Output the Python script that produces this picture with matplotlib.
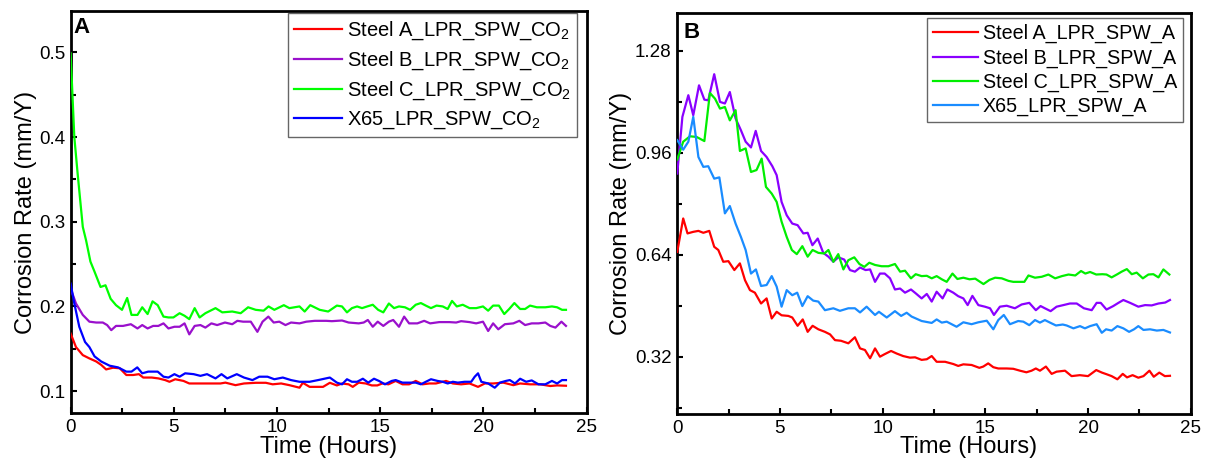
import matplotlib
matplotlib.use("Agg")
import matplotlib.pyplot as plt
import numpy as np
from matplotlib import rcParams
from matplotlib.ticker import MultipleLocator, FormatStrFormatter

rcParams["font.family"] = ["Liberation Sans", "DejaVu Sans"]
rcParams["mathtext.default"] = "regular"

# (time in hours, corrosion rate in mm/Y)
a_steel_a = [(0, 0.168), (0.26, 0.152), (0.59, 0.1425), (0.91, 0.1386), (1.24, 0.135), (1.48, 0.131), (1.72, 0.1256),
             (2.05, 0.1276), (2.38, 0.127), (2.7, 0.119), (3.03, 0.119), (3.31, 0.12), (3.52, 0.116), (3.93, 0.116),
             (4.25, 0.115), (4.58, 0.113), (4.79, 0.111), (5.07, 0.114), (5.47, 0.112), (5.75, 0.109), (6.2, 0.109),
             (6.85, 0.109), (7.26, 0.109), (7.5, 0.110), (7.99, 0.107), (8.4, 0.109), (8.97, 0.1098), (9.46, 0.1098),
             (9.79, 0.108), (10.2, 0.109), (10.6, 0.107), (11.09, 0.104), (11.25, 0.1098), (11.58, 0.105), (12.23, 0.105),
             (12.56, 0.1098), (12.9, 0.1067), (13.15, 0.109), (13.47, 0.108), (13.67, 0.105), (13.96, 0.11), (14.3, 0.109),
             (14.59, 0.1067), (14.86, 0.1067), (15.1, 0.109), (15.4, 0.108), (15.75, 0.112), (16.08, 0.108), (16.4, 0.108),
             (16.72, 0.112), (17.05, 0.108), (17.38, 0.109), (17.7, 0.109), (18.19, 0.112), (18.52, 0.109), (18.92, 0.108),
             (19.33, 0.109), (19.74, 0.105), (20.07, 0.109), (20.47, 0.109), (20.96, 0.11), (21.45, 0.107), (21.78, 0.109),
             (22.26, 0.108), (22.75, 0.108), (23.24, 0.106), (23.57, 0.1067), (24.0, 0.1063)]
a_steel_b = [(0, 0.221), (0.26, 0.2035), (0.59, 0.19), (0.91, 0.182), (1.24, 0.181), (1.56, 0.181), (1.77, 0.178),
             (1.97, 0.172), (2.2, 0.177), (2.54, 0.177), (2.92, 0.179), (3.24, 0.174), (3.47, 0.178), (3.73, 0.174),
             (4.0, 0.177), (4.25, 0.177), (4.5, 0.18), (4.74, 0.174), (5.03, 0.176), (5.28, 0.176), (5.52, 0.18),
             (5.75, 0.167), (6.01, 0.177), (6.29, 0.178), (6.53, 0.175), (6.82, 0.18), (7.1, 0.178), (7.48, 0.181),
             (7.83, 0.179), (8.08, 0.183), (8.36, 0.182), (8.73, 0.182), (9.05, 0.17), (9.3, 0.182), (9.58, 0.188),
             (9.84, 0.181), (10.11, 0.182), (10.41, 0.178), (10.68, 0.181), (11.09, 0.18), (11.42, 0.182), (11.83, 0.183),
             (12.39, 0.183), (12.66, 0.1826), (13.15, 0.1834), (13.47, 0.181), (13.96, 0.18), (14.2, 0.181), (14.4, 0.184),
             (14.64, 0.176), (14.88, 0.182), (15.15, 0.177), (15.42, 0.182), (15.63, 0.184), (15.91, 0.176), (16.16, 0.188),
             (16.4, 0.18), (16.8, 0.18), (17.13, 0.183), (17.42, 0.18), (17.86, 0.1815), (18.35, 0.1815), (18.68, 0.181),
             (18.92, 0.1826), (19.33, 0.1815), (19.65, 0.18), (19.98, 0.182), (20.23, 0.171), (20.47, 0.18), (20.72, 0.173),
             (21.04, 0.179), (21.45, 0.18), (21.74, 0.183), (22.02, 0.178), (22.34, 0.18), (22.67, 0.18), (23.0, 0.181),
             (23.24, 0.177), (23.49, 0.175), (23.78, 0.182), (24.0, 0.177)]
a_steel_c = [(0, 0.499), (0.18, 0.40), (0.34, 0.357), (0.59, 0.294), (0.75, 0.278), (0.96, 0.253), (1.16, 0.241),
             (1.45, 0.223), (1.69, 0.225), (1.94, 0.209), (2.2, 0.2015), (2.49, 0.196), (2.74, 0.21), (2.95, 0.19),
             (3.24, 0.19), (3.47, 0.199), (3.73, 0.191), (3.97, 0.206), (4.22, 0.2015), (4.5, 0.188), (4.74, 0.187),
             (4.98, 0.187), (5.28, 0.192), (5.52, 0.189), (5.75, 0.185), (6.01, 0.198), (6.25, 0.187), (6.53, 0.192),
             (7.02, 0.198), (7.35, 0.193), (7.83, 0.194), (8.24, 0.192), (8.6, 0.199), (8.97, 0.196), (9.35, 0.195),
             (9.59, 0.2), (9.87, 0.196), (10.33, 0.2015), (10.6, 0.198), (11.09, 0.2), (11.34, 0.194), (11.61, 0.2015),
             (12.07, 0.196), (12.48, 0.194), (12.9, 0.201), (13.15, 0.2), (13.39, 0.193), (13.63, 0.198), (13.88, 0.2),
             (14.12, 0.198), (14.37, 0.2), (14.64, 0.202), (14.9, 0.196), (15.15, 0.193), (15.42, 0.2035), (15.67, 0.198),
             (15.91, 0.2), (16.2, 0.199), (16.45, 0.196), (16.72, 0.202), (16.97, 0.204), (17.21, 0.201), (17.46, 0.198),
             (17.73, 0.201), (18.03, 0.2), (18.27, 0.197), (18.48, 0.2065), (18.71, 0.2), (19.0, 0.202), (19.33, 0.198),
             (19.65, 0.198), (19.98, 0.2), (20.23, 0.195), (20.47, 0.201), (20.75, 0.201), (21.01, 0.191), (21.25, 0.197),
             (21.5, 0.204), (21.78, 0.197), (22.02, 0.197), (22.26, 0.201), (22.59, 0.199), (23.0, 0.199), (23.32, 0.2),
             (23.57, 0.199), (23.81, 0.196), (24.0, 0.196)]
a_x65 = [(0, 0.227), (0.18, 0.2035), (0.42, 0.176), (0.7, 0.158), (0.91, 0.152), (1.16, 0.141), (1.48, 0.135),
         (1.89, 0.13), (2.3, 0.128), (2.7, 0.123), (2.95, 0.123), (3.23, 0.128), (3.47, 0.121), (3.76, 0.123),
         (4.22, 0.123), (4.5, 0.117), (4.74, 0.116), (5.03, 0.12), (5.28, 0.117), (5.55, 0.121), (5.96, 0.12),
         (6.29, 0.118), (6.61, 0.12), (7.02, 0.115), (7.31, 0.12), (7.59, 0.115), (8.05, 0.12), (8.4, 0.116),
         (8.81, 0.113), (9.14, 0.117), (9.54, 0.117), (9.87, 0.114), (10.28, 0.116), (10.68, 0.113), (11.09, 0.111),
         (11.58, 0.111), (11.99, 0.113), (12.56, 0.116), (12.9, 0.11), (13.15, 0.108), (13.39, 0.114), (13.63, 0.111),
         (13.88, 0.111), (14.16, 0.1146), (14.42, 0.11), (14.7, 0.1146), (14.94, 0.112), (15.23, 0.108), (15.56, 0.112),
         (15.75, 0.113), (16.08, 0.11), (16.4, 0.11), (16.72, 0.11), (16.97, 0.108), (17.21, 0.111), (17.46, 0.114),
         (17.78, 0.112), (18.03, 0.111), (18.27, 0.109), (18.52, 0.111), (18.76, 0.11), (19.09, 0.111), (19.41, 0.111),
         (19.58, 0.117), (19.74, 0.121), (19.9, 0.111), (20.23, 0.109), (20.55, 0.104), (20.8, 0.11), (21.09, 0.112),
         (21.28, 0.113), (21.53, 0.109), (21.78, 0.1146), (22.07, 0.111), (22.34, 0.1126), (22.67, 0.108), (23.0, 0.108),
         (23.32, 0.112), (23.57, 0.109), (23.81, 0.113), (24.0, 0.113)]

b_steel_a = [(0, 0.649), (0.29, 0.754), (0.5, 0.707), (0.78, 0.712), (1.03, 0.715), (1.27, 0.709), (1.56, 0.715),
             (1.8, 0.665), (2.0, 0.655), (2.24, 0.618), (2.49, 0.62), (2.78, 0.592), (3.05, 0.613), (3.3, 0.56),
             (3.54, 0.529), (3.78, 0.521), (4.08, 0.487), (4.35, 0.503), (4.6, 0.44), (4.84, 0.461), (5.08, 0.45),
             (5.41, 0.448), (5.6, 0.443), (5.86, 0.417), (6.11, 0.437), (6.35, 0.398), (6.59, 0.417), (6.87, 0.406),
             (7.19, 0.398), (7.44, 0.39), (7.68, 0.372), (7.97, 0.37), (8.33, 0.362), (8.65, 0.381), (8.9, 0.346),
             (9.14, 0.341), (9.39, 0.315), (9.63, 0.346), (9.87, 0.32), (10.1, 0.328), (10.41, 0.338), (10.68, 0.33),
             (11.0, 0.322), (11.33, 0.317), (11.58, 0.318), (11.9, 0.31), (12.15, 0.312), (12.39, 0.322), (12.63, 0.304),
             (13.04, 0.304), (13.44, 0.297), (13.68, 0.291), (13.93, 0.296), (14.33, 0.294), (14.71, 0.285), (14.9, 0.289),
             (15.14, 0.299), (15.39, 0.287), (15.63, 0.283), (16.04, 0.283), (16.36, 0.282), (16.69, 0.276), (17.0, 0.271),
             (17.25, 0.276), (17.46, 0.283), (17.66, 0.276), (17.95, 0.289), (18.23, 0.266), (18.47, 0.273), (18.88, 0.276),
             (19.2, 0.259), (19.6, 0.262), (20.0, 0.259), (20.4, 0.278), (20.68, 0.27), (20.9, 0.265), (21.15, 0.259),
             (21.43, 0.249), (21.69, 0.266), (21.9, 0.255), (22.17, 0.262), (22.45, 0.254), (22.7, 0.259), (22.99, 0.276),
             (23.2, 0.257), (23.47, 0.27), (23.74, 0.259), (23.99, 0.26)]
b_steel_b = [(0, 0.895), (0.25, 1.073), (0.54, 1.141), (0.78, 1.078), (1.06, 1.172), (1.32, 1.127), (1.51, 1.125),
             (1.8, 1.207), (2.08, 1.12), (2.32, 1.115), (2.56, 1.151), (2.84, 1.068), (3.1, 1.031), (3.33, 0.995),
             (3.59, 0.977), (3.82, 1.029), (4.08, 0.966), (4.35, 0.947), (4.63, 0.918), (4.84, 0.89), (5.08, 0.806),
             (5.33, 0.764), (5.6, 0.738), (5.86, 0.733), (6.14, 0.707), (6.35, 0.709), (6.58, 0.67), (6.84, 0.691),
             (7.11, 0.646), (7.36, 0.634), (7.6, 0.618), (7.84, 0.632), (8.13, 0.625), (8.41, 0.592), (8.65, 0.587),
             (8.9, 0.6), (9.17, 0.592), (9.39, 0.594), (9.63, 0.555), (9.87, 0.581), (10.1, 0.581), (10.36, 0.566),
             (10.6, 0.531), (10.85, 0.534), (11.09, 0.521), (11.38, 0.531), (11.61, 0.519), (11.9, 0.503), (12.15, 0.517),
             (12.39, 0.493), (12.63, 0.524), (12.92, 0.503), (13.15, 0.531), (13.44, 0.521), (13.68, 0.51), (13.93, 0.503),
             (14.14, 0.482), (14.37, 0.511), (14.66, 0.482), (14.98, 0.477), (15.23, 0.472), (15.42, 0.451), (15.71, 0.477),
             (16.04, 0.48), (16.44, 0.472), (16.77, 0.484), (17.14, 0.489), (17.46, 0.466), (17.69, 0.479), (17.9, 0.472),
             (18.18, 0.463), (18.47, 0.477), (18.8, 0.482), (19.12, 0.487), (19.45, 0.487), (19.8, 0.472), (20.18, 0.466),
             (20.42, 0.489), (20.62, 0.489), (20.9, 0.468), (21.23, 0.479), (21.48, 0.489), (21.72, 0.498), (22.05, 0.489),
             (22.45, 0.477), (22.78, 0.482), (23.1, 0.481), (23.43, 0.487), (23.76, 0.49), (23.99, 0.498)]
b_steel_c = [(0, 0.939), (0.29, 0.995), (0.62, 1.012), (0.94, 1.01), (1.32, 0.997), (1.59, 1.148), (1.84, 1.13),
             (2.08, 1.099), (2.32, 1.104), (2.56, 1.062), (2.84, 1.094), (3.05, 0.966), (3.33, 0.974), (3.59, 0.9),
             (3.86, 0.906), (4.11, 0.942), (4.32, 0.853), (4.6, 0.832), (4.84, 0.806), (5.08, 0.744), (5.33, 0.696),
             (5.58, 0.655), (5.82, 0.642), (6.09, 0.667), (6.35, 0.634), (6.59, 0.655), (6.87, 0.646), (7.16, 0.644),
             (7.36, 0.655), (7.6, 0.618), (7.84, 0.642), (8.09, 0.594), (8.33, 0.623), (8.62, 0.632), (8.87, 0.611),
             (9.11, 0.602), (9.35, 0.615), (9.63, 0.608), (9.95, 0.604), (10.28, 0.604), (10.6, 0.611), (10.85, 0.587),
             (11.09, 0.59), (11.38, 0.566), (11.61, 0.579), (11.9, 0.573), (12.15, 0.574), (12.39, 0.566), (12.63, 0.573),
             (12.88, 0.563), (13.12, 0.555), (13.4, 0.581), (13.64, 0.564), (13.93, 0.568), (14.23, 0.563), (14.51, 0.565),
             (14.91, 0.548), (15.2, 0.561), (15.48, 0.568), (15.8, 0.566), (16.13, 0.558), (16.36, 0.555), (16.66, 0.555),
             (16.9, 0.555), (17.1, 0.575), (17.42, 0.568), (17.75, 0.571), (18.07, 0.578), (18.4, 0.566), (18.73, 0.573),
             (19.05, 0.578), (19.38, 0.575), (19.66, 0.589), (19.87, 0.581), (20.1, 0.586), (20.4, 0.578), (20.7, 0.579),
             (20.9, 0.578), (21.15, 0.569), (21.43, 0.579), (21.64, 0.587), (21.89, 0.595), (22.13, 0.579), (22.37, 0.584),
             (22.67, 0.566), (22.94, 0.578), (23.18, 0.579), (23.43, 0.569), (23.67, 0.594), (23.96, 0.578)]
b_x65 = [(0, 1.0), (0.29, 0.97), (0.54, 0.995), (0.78, 1.073), (1.03, 0.947), (1.27, 0.916), (1.51, 0.918),
         (1.8, 0.879), (2.05, 0.883), (2.32, 0.77), (2.56, 0.793), (2.84, 0.738), (3.1, 0.696), (3.33, 0.655),
         (3.59, 0.581), (3.83, 0.594), (4.08, 0.542), (4.35, 0.545), (4.6, 0.573), (4.84, 0.54), (5.08, 0.477),
         (5.33, 0.529), (5.6, 0.513), (5.84, 0.521), (6.09, 0.479), (6.35, 0.51), (6.62, 0.496), (6.87, 0.493),
         (7.19, 0.466), (7.6, 0.472), (7.92, 0.464), (8.33, 0.472), (8.65, 0.472), (8.9, 0.459), (9.22, 0.477),
         (9.63, 0.451), (9.82, 0.461), (10.2, 0.443), (10.6, 0.463), (10.9, 0.448), (11.17, 0.458), (11.41, 0.446),
         (11.9, 0.432), (12.39, 0.426), (12.63, 0.437), (12.88, 0.427), (13.12, 0.43), (13.6, 0.414), (13.93, 0.428),
         (14.33, 0.422), (14.66, 0.428), (15.07, 0.433), (15.39, 0.406), (15.63, 0.435), (15.9, 0.451), (16.2, 0.422),
         (16.6, 0.432), (16.85, 0.43), (17.14, 0.419), (17.42, 0.435), (17.66, 0.427), (17.9, 0.435), (18.15, 0.427),
         (18.44, 0.418), (18.77, 0.421), (18.96, 0.418), (19.29, 0.409), (19.61, 0.416), (19.85, 0.409), (20.1, 0.416),
         (20.42, 0.422), (20.67, 0.395), (20.88, 0.406), (21.15, 0.402), (21.43, 0.416), (21.72, 0.409), (22.0, 0.398),
         (22.24, 0.406), (22.45, 0.416), (22.7, 0.404), (23.02, 0.406), (23.35, 0.402), (23.67, 0.404), (23.99, 0.396)]

labels_a = ["Steel A_LPR_SPW_CO$_2$", "Steel B_LPR_SPW_CO$_2$", "Steel C_LPR_SPW_CO$_2$", "X65_LPR_SPW_CO$_2$"]
labels_b = ["Steel A_LPR_SPW_A", "Steel B_LPR_SPW_A", "Steel C_LPR_SPW_A", "X65_LPR_SPW_A"]
colors_a = ["#ff0000", "#9a10cc", "#00ff00", "#0000ff"]
colors_b = ["#ff0000", "#8a00ff", "#00ee00", "#1a8cff"]


def style_axes(ax, ymajor, yminor):
    for side in ["top", "right", "bottom", "left"]:
        ax.spines[side].set_linewidth(2)
    ax.tick_params(which="both", direction="in", top=False, right=False, labelsize=13.5, pad=4)
    ax.tick_params(which="major", length=4.5, width=1.5)
    ax.tick_params(which="minor", length=3.5, width=1.5)
    ax.xaxis.set_major_locator(MultipleLocator(5))
    ax.xaxis.set_minor_locator(MultipleLocator(2.5))
    ax.yaxis.set_major_locator(MultipleLocator(ymajor))
    ax.yaxis.set_minor_locator(MultipleLocator(yminor))
    ax.set_xlim(0, 25)


def draw_panel(ax, series, labels, colors):
    # lines sit on top of the frame, as in the original
    for data, label, color in zip(series, labels, colors):
        t, v = np.array(data).T
        ax.plot(t, v, color=color, linewidth=1.6, label=label, zorder=3)


def add_legend(ax, anchor, fontsize, spacing, handlelength, textpad):
    leg = ax.legend(loc="upper right", bbox_to_anchor=anchor, fontsize=fontsize, frameon=True, fancybox=False,
                    borderaxespad=0, handlelength=handlelength, handletextpad=textpad, labelspacing=spacing,
                    borderpad=0.3)
    leg.get_frame().set_edgecolor("#404040")
    leg.get_frame().set_linewidth(1)
    leg.set_zorder(5)
    return leg


fig = plt.figure(figsize=(12.07, 4.59), dpi=100)
ax1 = fig.add_axes([0.0585, 0.100, 0.4275, 0.876])
ax2 = fig.add_axes([0.5611, 0.098, 0.4254, 0.8743])

draw_panel(ax1, [a_steel_a, a_steel_b, a_steel_c, a_x65], labels_a, colors_a)
style_axes(ax1, 0.1, 0.05)
ax1.set_ylim(0.074, 0.549)
ax1.yaxis.set_major_formatter(FormatStrFormatter("%.1f"))
ax1.set_ylabel("Corrosion Rate (mm/Y)", fontsize=17, labelpad=1)
ax1.set_xlabel("Time (Hours)", fontsize=17, va="baseline")
ax1.xaxis.set_label_coords(0.5, -0.1)
ax1.text(0.006, 0.946, "A", transform=ax1.transAxes, fontsize=16, fontweight="bold")
add_legend(ax1, (0.981, 0.994), 14.5, 0.38, 2.4, 0.22)

draw_panel(ax2, [b_steel_a, b_steel_b, b_steel_c, b_x65], labels_b, colors_b)
style_axes(ax2, 0.32, 0.16)
ax2.set_ylim(0.14, 1.40)
ax2.yaxis.set_major_formatter(FormatStrFormatter("%.2f"))
ax2.set_ylabel("Corrosion Rate (mm/Y)", fontsize=17, labelpad=2)
ax2.set_xlabel("Time (Hours)", fontsize=17, va="baseline")
ax2.xaxis.set_label_coords(0.568, -0.097)
ax2.text(0.012, 0.936, "B", transform=ax2.transAxes, fontsize=16, fontweight="bold")
add_legend(ax2, (0.985, 0.986), 14.2, 0.25, 2.3, 0.25)

fig.savefig("out.png", dpi=100)
